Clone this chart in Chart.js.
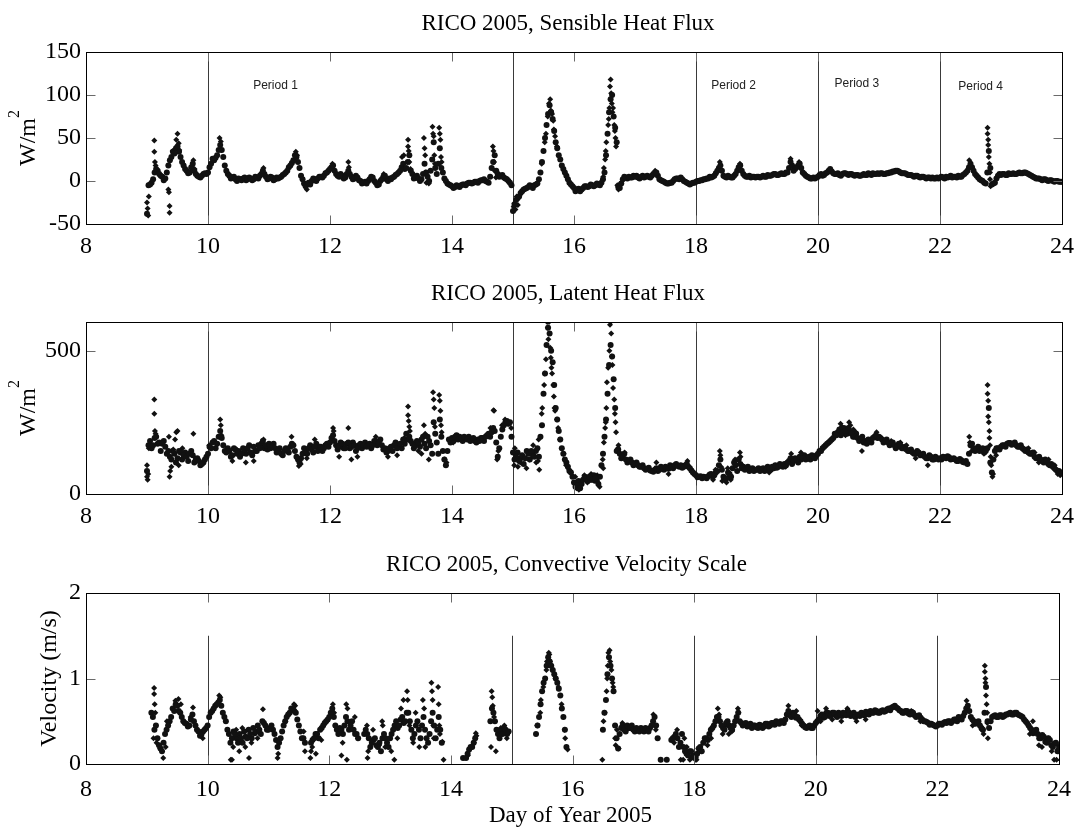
<!DOCTYPE html>
<html>
<head>
<meta charset="utf-8">
<title>RICO 2005 surface fluxes</title>
<script src="https://cdn.jsdelivr.net/npm/chart.js@4.4.1/dist/chart.umd.min.js"></script>
<style>
  html, body { margin: 0; padding: 0; background: #fff; }
  #page { position: relative; width: 1082px; height: 827px; overflow: hidden; background: #fff; }
  #page canvas { position: absolute; left: 0; }
</style>
</head>
<body>
<div id="page">
  <canvas id="sensible-chart" width="1082" height="270" style="top:0px"></canvas>
  <canvas id="latent-chart" width="1082" height="280" style="top:270px"></canvas>
  <canvas id="velocity-chart" width="1082" height="277" style="top:550px"></canvas>
</div>
<script>
// time axis: samples every 0.05 day from day 9.00 to 24.00,
// the *Mid arrays hold the samples in between (9.025, 9.075, ...)
const dayStart = 9.0;
const dayStep = 0.05;
const dayTicks = [8, 10, 12, 14, 16, 18, 20, 22, 24];
const periodLines = [10, 15, 18, 20, 22];
const periodNames = ['Period 1', 'Period 2', 'Period 3', 'Period 4'];
const periodLabelDays = [10.74, 18.25, 20.27, 22.30];
const periodLabelFlux = [107, 107, 109, 106];

const sensibleTicks = [-50, 0, 50, 100, 150];
const latentTicks = [0, 500];
const velocityTicks = [0, 1, 2];

// sensible heat flux, W/m2
const sensibleFlux = [
  -38, -4, 2, 14, 8, 5, 3, 18, 28, 32, 40, 28, 18, 12, 10, 20, 8, 5, 6, 9,
  10, 20, 24, 30, 42, 28, 12, 6, 4, 2, 3, 1, 4, 2, 3, 2, 4, 6, 12, 5,
  3, 4, 2, 3, 5, 8, 12, 18, 24, 28, 15, 2, -6, -2, 0, 2, 3, 5, 6, 10,
  14, 18, 8, 5, 6, 4, 12, 5, 3, 4, 0, -2, -3, 2, 4, -2, -4, 2, 6, 0,
  2, 5, 8, 12, 20, 15, 30, 8, 4, 3, 2, 20, 5, 12, 45, 8, 38, 10, 0, -4,
  -6, -7, -6, -5, -4, -3, -2, -2, -1, 0, 1, 0, -2, 15, 30, 8, 6, 4, 2, -2,
  -35, -22, -18, -12, -9, -7, -6, -5, -3, 10, 35, 65, 88, 72, 45, 30, 18, 10, 2, -4,
  -8, -10, -12, -8, -6, -6, -5, -5, -4, -2, 10, 55, 95, 75, 45, -8, 2, 4, 5, 4,
  5, 4, 5, 4, 6, 4, 8, 10, 2, 0, -2, -3, -2, 2, 3, 4, 0, -2, -4, -2,
  -1, 0, 1, 2, 3, 4, 6, 12, 18, 6, 4, 5, 4, 8, 16, 12, 6, 5, 4, 5,
  5, 4, 6, 5, 6, 7, 8, 7, 9, 8, 10, 22, 12, 16, 20, 10, 6, 4, 3, 3,
  5, 8, 7, 10, 14, 9, 8, 7, 8, 9, 7, 8, 6, 7, 6, 8, 7, 8, 9, 8,
  8, 9, 8, 9, 10, 11, 12, 10, 9, 8, 7, 6, 6, 5, 5, 4, 4, 3, 3, 4,
  4, 4, 5, 5, 4, 5, 6, 5, 8, 12, 20, 12, 6, 2, 0, -3, 35, -4, -2, 6,
  7, 8, 7, 8, 9, 8, 10, 9, 10, 8, 6, 4, 3, 2, 2, 1, 1, 0, 0, -1,
  -1
];

const sensibleFluxMid = [
  -5, -2, 10, 12, 6, 1, 10, 24, 34, 38, 34, 22, 14, 9, 16, 12, 6, 4, 8, 8,
  16, 26, 27, 36, 36, 18, 8, 3, 5, 0, 2, 3, 1, 4, 1, 5, 3, 8, 8, 2,
  5, 1, 4, 4, 7, 10, 16, 21, 30, 22, 6, -3, -4, -4, 3, 0, 5, 4, 9, 12,
  16, 12, 6, 8, 3, 8, 8, 2, 6, 1, -3, -1, 0, 5, 0, -5, 0, 5, 2, 3,
  4, 7, 10, 16, 14, 22, 12, 3, 6, 0, 8, 10, 0, 25, 15, 20, 15, 3, -3, -5,
  -8, -5, -7, -4, -5, -2, -3, -1, -2, 1, 2, -1, 5, 22, 12, 5, 7, 3, 0, -5,
  -28, -20, -14, -10, -8, -5, -8, -4, 2, 22, 50, 78, 80, 58, 38, 25, 14, 6, -2, -6,
  -12, -9, -10, -6, -7, -4, -6, -3, -5, 2, 30, 80, 100, 62, -7, -3, 5, 3, 4, 6,
  6, 3, 6, 5, 5, 6, 9, 6, 1, -1, -3, -2, 0, 3, 2, 2, -1, -3, -3, -2,
  0, 1, 2, 3, 5, 5, 9, 15, 12, 5, 6, 4, 6, 12, 18, 8, 5, 6, 5, 4,
  5, 5, 5, 7, 6, 8, 7, 8, 8, 10, 15, 18, 14, 18, 15, 8, 5, 3, 4, 4,
  7, 6, 9, 12, 11, 8, 9, 6, 9, 8, 8, 7, 7, 6, 7, 7, 9, 7, 8, 9,
  9, 8, 9, 10, 11, 12, 11, 9, 9, 7, 7, 5, 6, 4, 5, 3, 4, 4, 3, 3,
  5, 3, 4, 6, 5, 4, 5, 7, 10, 16, 16, 8, 4, 1, -2, 10, 15, -3, 3, 8,
  8, 7, 9, 8, 8, 9, 9, 10, 9, 7, 5, 3, 3, 1, 2, 0, 1, -1, 0, -1
];

// extra samples inside the fast spikes: [day, W/m2]
const sensibleSpikes = [
  [9.00, -25], [9.01, -32], [9.02, -40], [9.03, -18], [9.12, 47], [9.12, 34], [9.13, 22],
  [9.14, 18], [9.35, -10], [9.36, -13], [9.37, -29], [9.37, -37], [9.42, 35], [9.48, 48],
  [9.50, 55], [9.52, 44], [9.53, 36], [9.76, 24], [9.78, 14],
  [10.19, 50], [10.21, 46], [10.22, 36], [10.91, 15],
  [11.44, 34], [11.46, 30], [11.62, -10],
  [12.04, 20], [12.30, 22], [12.31, 16], [12.88, 8],
  [13.18, 28], [13.21, 30], [13.28, 48], [13.28, 40], [13.29, 35], [13.30, 22], [13.32, 14],
  [13.54, 50], [13.55, 38], [13.56, 30], [13.57, 10], [13.68, 63], [13.69, 55], [13.70, 52],
  [13.71, 30], [13.72, 20], [13.79, 62], [13.80, 55], [13.81, 48], [13.82, 28], [13.83, 22],
  [13.62, -3], [13.58, -2],
  [14.67, 40], [14.68, 35], [14.69, 22], [14.70, 12], [14.72, 4],
  [15.01, -30], [15.02, -26], [15.04, -33], [15.06, -18], [15.08, -28], [15.47, 20],
  [15.52, 45], [15.54, 55], [15.57, 75], [15.59, 90], [15.61, 95], [15.62, 82], [15.64, 78],
  [15.66, 70], [15.67, 60], [15.69, 52], [15.72, 40],
  [16.48, 5], [16.49, 15], [16.51, 25], [16.52, 35], [16.53, 45], [16.56, 65], [16.57, 72],
  [16.58, 85], [16.59, 110], [16.60, 118], [16.61, 102], [16.62, 90], [16.63, 80], [16.64, 85],
  [16.66, 65], [16.67, 58], [16.68, 50], [16.69, 40], [16.71, -5], [16.73, -10], [16.76, -3],
  [17.33, 12], [18.39, 22], [18.72, 20], [19.55, 26], [19.69, 22],
  [22.48, 24], [22.78, 62], [22.78, 55], [22.79, 48], [22.79, 42], [22.80, 28], [22.81, 20],
  [22.82, 10], [22.82, 2], [22.83, -6]
];

// latent heat flux, W/m2
const latentFlux = [
  80, 185, 170, 200, 180, 175, 165, 150, 120, 140, 125, 145, 135, 130, 140, 135, 120, 115, 105, 120,
  140, 160, 185, 175, 220, 170, 145, 150, 135, 155, 150, 140, 155, 160, 145, 165, 150, 160, 185, 170,
  175, 165, 160, 150, 140, 150, 155, 165, 170, 130, 110, 140, 150, 160, 155, 165, 150, 165, 160, 175,
  180, 205, 170, 165, 175, 160, 180, 165, 170, 160, 175, 170, 165, 175, 170, 185, 180, 170, 160, 150,
  165, 170, 160, 175, 190, 210, 200, 175, 170, 180, 190, 175, 200, 170, 250, 180, 260, 150, 100, 190,
  195, 200, 190, 195, 200, 190, 185, 195, 180, 185, 195, 200, 210, 215, 220, 130, 200, 240, 255, 250,
  145, 130, 115, 135, 125, 140, 150, 130, 160, 200, 350, 520, 560, 460, 300, 220, 160, 120, 95, 75,
  40, 30, 20, 50, 55, 60, 50, 55, 35, 100, 200, 350, 520, 400, 150, 140, 130, 120, 115, 110,
  105, 100, 95, 90, 88, 82, 78, 90, 85, 90, 95, 88, 95, 100, 98, 100, 95, 105, 90, 75,
  65, 60, 55, 58, 62, 70, 65, 80, 120, 60, 55, 70, 90, 100, 120, 90, 85, 95, 85, 80,
  85, 80, 90, 85, 90, 95, 100, 95, 100, 105, 110, 125, 115, 120, 130, 125, 120, 130, 135, 125,
  140, 150, 165, 175, 185, 195, 205, 225, 215, 220, 230, 210, 200, 195, 190, 180, 175, 185, 195, 205,
  200, 190, 185, 180, 175, 170, 165, 170, 160, 155, 150, 145, 140, 145, 135, 130, 125, 130, 120, 125,
  125, 130, 125, 128, 122, 120, 115, 118, 110, 105, 170, 160, 155, 150, 160, 150, 300, 75, 150, 160,
  165, 170, 175, 178, 175, 170, 165, 160, 150, 145, 140, 130, 125, 120, 110, 115, 100, 95, 85, 80,
  75
];

const latentFluxMid = [
  170, 160, 195, 175, 150, 185, 140, 130, 150, 110, 150, 120, 145, 115, 150, 110, 125, 100, 110, 130,
  165, 180, 160, 200, 195, 150, 160, 130, 160, 140, 130, 160, 140, 170, 135, 150, 170, 175, 160, 155,
  160, 175, 145, 160, 135, 160, 145, 175, 150, 120, 125, 160, 140, 170, 145, 175, 165, 150, 170, 165,
  195, 185, 155, 180, 160, 175, 160, 180, 150, 170, 160, 180, 170, 160, 185, 170, 190, 155, 145, 160,
  150, 180, 170, 160, 175, 190, 185, 160, 185, 165, 200, 160, 185, 140, 210, 140, 200, 120, 150, 180,
  185, 205, 200, 185, 195, 200, 190, 185, 190, 195, 185, 205, 200, 230, 180, 160, 225, 250, 245, 200,
  120, 145, 125, 105, 150, 120, 135, 150, 130, 240, 420, 580, 500, 380, 260, 190, 140, 110, 80, 60,
  25, 45, 35, 60, 45, 50, 65, 45, 60, 140, 260, 450, 480, 300, 155, 125, 140, 110, 120, 100,
  110, 95, 100, 85, 92, 80, 85, 80, 95, 85, 90, 100, 90, 105, 95, 92, 100, 95, 82, 70,
  58, 62, 60, 55, 68, 60, 75, 100, 85, 50, 75, 60, 110, 80, 105, 95, 90, 80, 90, 85,
  90, 85, 80, 95, 85, 90, 92, 105, 95, 100, 115, 105, 125, 110, 120, 135, 125, 120, 130, 135,
  150, 160, 170, 180, 190, 210, 215, 205, 230, 210, 220, 200, 210, 185, 200, 185, 190, 180, 200, 195,
  195, 180, 190, 170, 180, 160, 175, 160, 165, 150, 155, 140, 150, 135, 140, 125, 135, 120, 130, 120,
  120, 128, 132, 120, 125, 115, 122, 112, 115, 140, 175, 150, 165, 155, 145, 160, 110, 120, 160, 155,
  170, 165, 178, 172, 180, 165, 170, 155, 155, 140, 145, 125, 130, 115, 120, 105, 105, 90, 80, 72
];

const latentSpikes = [
  [9.00, 100], [9.00, 60], [9.01, 50], [9.02, 70], [9.03, 160], [9.12, 330], [9.12, 280],
  [9.13, 220], [9.14, 210], [9.37, 60], [9.38, 80], [9.36, 200], [9.40, 95], [9.46, 190],
  [9.48, 215], [9.50, 220], [9.52, 100], [9.76, 210], [9.43, 155], [9.58, 160],
  [10.20, 260], [10.21, 240], [10.22, 205], [10.02, 170], [10.40, 115], [10.62, 110],
  [10.75, 115], [10.91, 190],
  [11.37, 200], [11.49, 98], [11.52, 105], [11.75, 190], [11.62, 125],
  [12.05, 230], [12.06, 220], [12.30, 230], [12.15, 130], [12.35, 120], [12.45, 130],
  [12.95, 130], [12.75, 200],
  [13.28, 305], [13.28, 275], [13.29, 255], [13.30, 235], [13.31, 220], [13.22, 195],
  [13.10, 135], [13.54, 240], [13.56, 210], [13.62, 120], [13.69, 355], [13.70, 330],
  [13.71, 300], [13.72, 235], [13.79, 345], [13.80, 325], [13.81, 290], [13.82, 240],
  [13.83, 215], [13.88, 120], [13.91, 110], [13.45, 150], [13.50, 140],
  [14.68, 292], [14.69, 290], [14.63, 230], [14.74, 120], [14.76, 150], [14.82, 240],
  [14.87, 260], [14.92, 245], [14.97, 230], [14.02, 180],
  [15.02, 100], [15.03, 160], [15.08, 95], [15.12, 110], [15.22, 90], [15.27, 120],
  [15.33, 170], [15.38, 110], [15.41, 115], [15.42, 190], [15.43, 85], [15.47, 280],
  [15.48, 300], [15.51, 380], [15.52, 420], [15.54, 470], [15.56, 600], [15.57, 580],
  [15.58, 540], [15.59, 600], [15.61, 510], [15.62, 475], [15.63, 440], [15.64, 420],
  [15.66, 380], [15.67, 340], [15.68, 300], [15.69, 290], [15.72, 260], [15.74, 230],
  [15.77, 190], [15.83, 140], [15.87, 100], [15.92, 85],
  [16.02, 60], [16.04, 20], [16.08, 15], [16.12, 45], [16.17, 65], [16.22, 40], [16.28, 70],
  [16.33, 45], [16.38, 65], [16.42, 25], [16.47, 120], [16.48, 90], [16.49, 180], [16.51, 230],
  [16.52, 250], [16.53, 300], [16.54, 390], [16.56, 440], [16.58, 500], [16.59, 590],
  [16.60, 600], [16.61, 560], [16.62, 480], [16.63, 450], [16.64, 370], [16.66, 330],
  [16.67, 280], [16.68, 250], [16.69, 215], [16.72, 160], [16.73, 170], [16.78, 125], [16.83, 145],
  [17.35, 110], [17.86, 115], [17.55, 70],
  [18.39, 150], [18.40, 135], [18.41, 95], [18.43, 45], [18.50, 40], [18.52, 90], [18.57, 50],
  [18.64, 120], [18.72, 145], [18.73, 130], [18.76, 100], [18.32, 85], [18.28, 50],
  [19.56, 140], [19.72, 145], [19.47, 95], [19.20, 75],
  [20.37, 245], [20.39, 235], [20.51, 250], [20.53, 240], [20.58, 225], [20.72, 150],
  [20.96, 215], [20.98, 195], [20.62, 215], [20.45, 205],
  [21.20, 185], [21.35, 180], [21.60, 125], [21.80, 100], [21.45, 170],
  [22.48, 200], [22.49, 180], [22.52, 150], [22.62, 165], [22.72, 140], [22.77, 155],
  [22.78, 380], [22.78, 350], [22.79, 325], [22.79, 270], [22.80, 250], [22.81, 220],
  [22.81, 195], [22.82, 170], [22.83, 130], [22.84, 100], [22.86, 60], [22.87, 70], [22.92, 135],
  [23.45, 160], [23.55, 145], [23.62, 110], [23.78, 120], [23.88, 100], [23.93, 70], [23.97, 65]
];

// convective velocity scale, m/s (null = no estimate)
const velocityScale = [
  null, null, 0.55, 0.45, 0.22, 0.15, 0.35, 0.45, 0.55, 0.62, 0.68, 0.6, 0.5, 0.47, 0.45, 0.58, 0.45, 0.38, 0.35, 0.4,
  0.45, 0.6, 0.65, 0.7, 0.75, 0.6, 0.5, 0.35, 0.3, 0.35, 0.25, 0.3, 0.38, 0.3, 0.35, 0.42, 0.38, 0.4, 0.5, 0.45,
  0.4, 0.45, 0.35, 0.2, 0.3, 0.45, 0.55, 0.6, 0.65, 0.6, 0.45, 0.3, 0.25, null, 0.25, 0.3, 0.35, 0.4, 0.45, 0.5,
  0.55, 0.65, 0.45, 0.35, 0.4, 0.45, 0.5, 0.45, 0.4, 0.35, null, null, 0.4, 0.3, 0.25, 0.3, 0.2, 0.15, 0.35, 0.25,
  0.3, 0.4, 0.5, 0.45, 0.55, 0.5, 0.6, 0.4, 0.35, 0.5, 0.3, 0.55, 0.3, 0.35, 0.6, 0.3, 0.55, 0.25, null, null,
  null, null, null, null, 0.07, 0.07, 0.17, 0.2, 0.3, null, null, null, null, 0.5, 0.6, 0.4, 0.3, 0.35, 0.4, 0.38,
  null, null, null, null, null, null, null, null, 0.35, 0.55, 0.85, 1.0, 1.25, 1.15, 1.05, 0.95, 0.8, 0.55, 0.2, null,
  null, null, null, null, null, null, null, null, null, null, 0.4, 0.75, 1.25, 1.0, 0.45, 0.18, 0.42, 0.4, 0.45, 0.42,
  0.4, 0.42, 0.38, 0.4, 0.42, 0.38, 0.45, 0.55, 0.3, 0.05, null, 0.05, null, 0.3, 0.35, 0.2, 0.35, 0.15, 0.1, 0.15,
  0.1, 0.12, 0.2, 0.25, 0.3, 0.35, 0.42, 0.5, 0.55, 0.45, 0.4, 0.5, 0.42, 0.45, 0.55, 0.5, 0.45, 0.48, 0.45, 0.42,
  0.45, 0.42, 0.45, 0.44, 0.47, 0.45, 0.48, 0.5, 0.47, 0.5, 0.52, 0.62, 0.55, 0.58, 0.55, 0.5, 0.45, 0.42, 0.45, 0.42,
  0.48, 0.52, 0.58, 0.55, 0.6, 0.57, 0.6, 0.55, 0.58, 0.6, 0.57, 0.6, 0.58, 0.55, 0.58, 0.6, 0.57, 0.6, 0.62, 0.6,
  0.62, 0.6, 0.63, 0.62, 0.65, 0.66, 0.68, 0.65, 0.62, 0.6, 0.62, 0.58, 0.6, 0.55, 0.57, 0.52, 0.5, 0.48, 0.47, 0.45,
  0.45, 0.47, 0.48, 0.48, 0.5, 0.5, 0.52, 0.55, 0.52, 0.6, 0.68, 0.55, 0.5, 0.48, 0.45, 0.4, 0.9, 0.42, 0.55, 0.57,
  0.55, 0.57, 0.56, 0.58, 0.6, 0.58, 0.6, 0.57, 0.55, 0.5, 0.45, 0.4, 0.38, 0.35, 0.3, 0.32, 0.25, 0.28, 0.2, 0.25,
  0.18
];

const velocityScaleMid = [
  null, 0.6, 0.4, 0.3, 0.18, 0.25, 0.4, 0.5, 0.65, 0.7, 0.62, 0.55, 0.48, 0.44, 0.52, 0.5, 0.4, 0.33, 0.38, 0.42,
  0.55, 0.62, 0.68, 0.72, 0.68, 0.55, 0.4, 0.25, 0.38, 0.3, 0.35, 0.25, 0.32, 0.4, 0.3, 0.36, 0.45, 0.35, 0.48, 0.4,
  0.42, 0.4, 0.28, 0.25, 0.38, 0.5, 0.58, 0.65, 0.62, 0.52, 0.38, 0.3, null, null, 0.28, 0.35, 0.3, 0.42, 0.48, 0.52,
  0.6, 0.55, 0.4, 0.42, 0.35, 0.55, 0.4, 0.5, 0.35, 0.3, null, 0.35, 0.35, 0.2, 0.28, 0.22, 0.25, 0.3, 0.3, 0.2,
  0.35, 0.45, 0.42, 0.52, 0.48, 0.6, 0.5, 0.3, 0.45, 0.4, 0.45, 0.4, 0.25, 0.5, 0.45, 0.4, 0.4, null, null, null,
  null, null, null, null, null, 0.12, 0.2, 0.25, null, null, null, null, null, 0.65, 0.5, 0.35, 0.38, 0.42, 0.35, null,
  null, null, null, null, null, null, null, null, 0.45, 0.7, 0.95, 1.15, 1.2, 1.1, 1.0, 0.88, 0.65, 0.4, null, null,
  null, null, null, null, null, null, null, null, null, null, 0.6, 1.05, 1.15, 0.85, 0.3, 0.35, 0.45, 0.38, 0.42, 0.45,
  0.38, 0.4, 0.42, 0.38, 0.4, 0.42, 0.5, 0.45, null, null, null, null, 0.28, 0.32, 0.3, 0.25, 0.2, 0.12, 0.15, 0.08,
  0.08, 0.18, 0.15, 0.3, 0.28, 0.4, 0.45, 0.55, 0.5, 0.42, 0.48, 0.45, 0.4, 0.5, 0.6, 0.48, 0.47, 0.44, 0.47, 0.45,
  0.43, 0.46, 0.42, 0.47, 0.44, 0.48, 0.46, 0.48, 0.5, 0.48, 0.58, 0.57, 0.6, 0.54, 0.52, 0.47, 0.43, 0.44, 0.42, 0.45,
  0.5, 0.56, 0.54, 0.6, 0.56, 0.6, 0.57, 0.6, 0.56, 0.58, 0.62, 0.56, 0.6, 0.57, 0.56, 0.58, 0.61, 0.58, 0.6, 0.63,
  0.6, 0.62, 0.61, 0.64, 0.63, 0.67, 0.66, 0.63, 0.6, 0.62, 0.59, 0.61, 0.57, 0.56, 0.54, 0.5, 0.49, 0.46, 0.46, 0.44,
  0.47, 0.46, 0.49, 0.5, 0.48, 0.52, 0.5, 0.53, 0.56, 0.65, 0.62, 0.52, 0.47, 0.5, 0.42, 0.6, 0.5, 0.5, 0.56, 0.55,
  0.57, 0.55, 0.58, 0.59, 0.58, 0.6, 0.58, 0.56, 0.52, 0.48, 0.42, 0.36, 0.4, 0.3, 0.34, 0.26, 0.3, 0.22, 0.24, 0.15
];

const velocitySpikes = [
  [9.12, 0.89], [9.12, 0.82], [9.13, 0.7], [9.14, 0.6], [9.11, 0.3], [9.16, 0.25], [9.22, 0.18],
  [9.27, 0.07], [9.31, 0.2], [9.33, 0.5], [9.47, 0.74], [9.52, 0.76], [9.56, 0.7], [9.76, 0.66],
  [9.72, 0.55], [9.92, 0.3],
  [10.19, 0.8], [10.21, 0.78], [10.38, 0.05], [10.40, 0.05], [10.42, 0.2], [10.52, 0.15],
  [10.57, 0.42], [10.62, 0.2], [10.68, 0.07], [10.72, 0.25], [10.91, 0.64], [10.82, 0.3], [10.47, 0.4],
  [11.15, 0.07], [11.16, 0.12], [11.42, 0.7], [11.44, 0.68], [11.58, 0.38], [11.60, 0.15],
  [11.69, 0.07], [11.70, 0.15], [11.72, 0.2], [11.78, 0.12], [11.87, 0.28], [11.28, 0.5],
  [12.06, 0.7], [12.08, 0.6], [12.20, 0.1], [12.22, 0.25], [12.28, 0.7], [12.30, 0.65],
  [12.29, 0.05], [12.42, 0.55], [12.47, 0.3], [12.62, 0.45], [12.63, 0.07], [12.64, 0.15],
  [12.72, 0.4], [12.87, 0.5], [12.88, 0.45], [12.92, 0.2], [12.82, 0.22],
  [13.07, 0.05], [13.02, 0.15], [13.12, 0.3], [13.18, 0.65], [13.22, 0.75], [13.28, 0.85],
  [13.29, 0.75], [13.32, 0.45], [13.38, 0.25], [13.42, 0.6], [13.48, 0.2], [13.54, 0.75],
  [13.56, 0.65], [13.58, 0.2], [13.68, 0.95], [13.69, 0.85], [13.70, 0.75], [13.71, 0.45],
  [13.72, 0.3], [13.79, 0.9], [13.80, 0.7], [13.81, 0.45], [13.82, 0.35], [13.86, 0.26], [13.88, 0.05],
  [14.28, 0.1], [14.38, 0.25], [14.41, 0.36], [14.42, 0.33], [14.67, 0.85], [14.68, 0.78],
  [14.69, 0.68], [14.71, 0.55], [14.66, 0.2], [14.74, 0.15], [14.82, 0.42], [14.88, 0.45], [14.92, 0.3],
  [15.42, 0.45], [15.47, 0.6], [15.48, 0.75], [15.52, 0.9], [15.57, 1.1], [15.58, 1.2],
  [15.61, 1.3], [15.62, 1.28], [15.63, 1.2], [15.67, 1.1], [15.72, 1.0], [15.77, 0.9],
  [15.82, 0.7], [15.87, 0.4], [15.88, 0.3], [15.92, 0.17],
  [16.49, 0.05], [16.51, 0.5], [16.53, 0.6], [16.56, 0.85], [16.57, 1.0], [16.58, 1.15],
  [16.59, 1.3], [16.61, 1.33], [16.62, 1.2], [16.64, 1.1], [16.66, 0.95], [16.67, 0.9],
  [16.70, 0.3], [16.71, 0.22], [16.73, 0.4], [16.76, 0.18], [16.82, 0.48],
  [17.33, 0.58], [17.37, 0.4], [17.67, 0.25], [17.72, 0.4], [17.78, 0.05], [17.82, 0.05],
  [17.84, 0.3], [17.88, 0.2], [17.93, 0.05], [17.97, 0.1],
  [18.02, 0.05], [18.04, 0.05], [18.07, 0.18], [18.12, 0.15], [18.22, 0.22], [18.28, 0.3],
  [18.39, 0.65], [18.41, 0.58], [18.47, 0.35], [18.52, 0.45], [18.57, 0.35], [18.72, 0.65],
  [18.73, 0.6], [18.62, 0.38],
  [19.55, 0.68], [19.68, 0.62], [19.77, 0.45],
  [20.03, 0.62], [20.08, 0.5], [20.17, 0.65], [20.27, 0.52], [20.42, 0.5], [20.52, 0.65],
  [20.67, 0.5], [20.82, 0.52], [21.57, 0.62], [21.72, 0.5],
  [22.48, 0.74], [22.52, 0.62], [22.58, 0.45], [22.73, 0.4], [22.78, 1.15], [22.78, 1.08],
  [22.79, 1.0], [22.79, 0.95], [22.80, 0.8], [22.81, 0.7], [22.82, 0.6], [22.82, 0.48],
  [22.83, 0.3], [22.76, 0.35],
  [23.52, 0.35], [23.57, 0.5], [23.67, 0.22], [23.72, 0.2], [23.82, 0.3], [23.88, 0.15],
  [23.92, 0.05], [23.96, 0.05], [23.98, 0.22]
];

const serif = "'Liberation Serif', 'Times New Roman', serif";
const sans = "'Liberation Sans', Arial, sans-serif";
const tickFont = { family: serif, size: 24 };

function sampledPoints(values, offset) {
  return values.map((v, i) => ({ x: Number((dayStart + offset + i * dayStep).toFixed(3)), y: v }));
}

function pairPoints(pairs) {
  return pairs.map(([x, y]) => ({ x, y }));
}

// the regular samples overlap into a band, the spike samples stay as separate dots
const bandStyle = {
  pointStyle: 'circle',
  pointRadius: 3,
  pointHoverRadius: 3,
  pointBackgroundColor: '#111',
  pointBorderWidth: 0,
  showLine: false
};

const dotStyle = {
  pointStyle: 'rectRot',
  pointRadius: 3,
  pointHoverRadius: 3,
  pointBackgroundColor: '#111',
  pointBorderWidth: 0,
  showLine: false
};

// frame, inward ticks, period lines and text around each panel
function panelDecor(cfg) {
  return {
    id: 'panelDecor',
    beforeDatasetsDraw(chart) {
      const { ctx, chartArea: area, scales } = chart;
      const yTop = cfg.lineTop === undefined ? area.top : scales.y.getPixelForValue(cfg.lineTop);
      ctx.save();
      ctx.strokeStyle = '#3a3a3a';
      ctx.lineWidth = 1;
      periodLines.forEach((d) => {
        const x = Math.round(scales.x.getPixelForValue(d)) + 0.5;
        ctx.beginPath();
        ctx.moveTo(x, yTop);
        ctx.lineTo(x, area.bottom);
        ctx.stroke();
      });
      ctx.restore();
    },
    afterDatasetsDraw(chart) {
      const { ctx, chartArea: area, scales } = chart;
      const left = Math.round(area.left) + 0.5;
      const right = Math.round(area.right) + 0.5;
      const top = Math.round(area.top) + 0.5;
      const bottom = Math.round(area.bottom) + 0.5;
      const tickLen = 9;
      ctx.save();
      ctx.strokeStyle = '#6a6a6a';
      ctx.lineWidth = 1;
      dayTicks.forEach((d) => {
        const x = Math.round(scales.x.getPixelForValue(d)) + 0.5;
        ctx.beginPath();
        ctx.moveTo(x, bottom);
        ctx.lineTo(x, bottom - tickLen);
        ctx.moveTo(x, top);
        ctx.lineTo(x, top + tickLen);
        ctx.stroke();
      });
      cfg.yTicks.forEach((v) => {
        const y = Math.round(scales.y.getPixelForValue(v)) + 0.5;
        ctx.beginPath();
        ctx.moveTo(left, y);
        ctx.lineTo(left + tickLen, y);
        ctx.moveTo(right, y);
        ctx.lineTo(right - tickLen, y);
        ctx.stroke();
      });
      ctx.strokeStyle = '#000';
      ctx.strokeRect(left, top, right - left, bottom - top);

      ctx.fillStyle = '#000';
      ctx.font = `23px ${serif}`;
      ctx.textAlign = 'center';
      ctx.textBaseline = 'alphabetic';
      const midX = (area.left + area.right) / 2 - 6;
      ctx.fillText(cfg.title, midX, area.top - 22);

      if (cfg.showPeriods) {
        ctx.font = `12px ${sans}`;
        ctx.fillStyle = '#222';
        ctx.textAlign = 'left';
        periodNames.forEach((name, i) => {
          ctx.fillText(name, scales.x.getPixelForValue(periodLabelDays[i]),
            scales.y.getPixelForValue(periodLabelFlux[i]));
        });
      }

      // rotated y label, optional superscript
      ctx.fillStyle = '#000';
      ctx.font = `24px ${serif}`;
      ctx.textAlign = 'left';
      const mainW = ctx.measureText(cfg.yLabel).width;
      ctx.font = `16px ${serif}`;
      const supW = cfg.yLabelSup ? ctx.measureText(cfg.yLabelSup).width : 0;
      const total = mainW + supW;
      ctx.translate(cfg.yLabelX, (area.top + area.bottom) / 2);
      ctx.rotate(-Math.PI / 2);
      ctx.font = `24px ${serif}`;
      ctx.fillText(cfg.yLabel, -total / 2, 0);
      if (cfg.yLabelSup) {
        ctx.font = `16px ${serif}`;
        ctx.fillText(cfg.yLabelSup, -total / 2 + mainW, -16);
      }
      ctx.restore();

      if (cfg.xLabel) {
        ctx.save();
        ctx.fillStyle = '#000';
        ctx.font = `23px ${serif}`;
        ctx.textAlign = 'center';
        ctx.textBaseline = 'alphabetic';
        ctx.fillText(cfg.xLabel, (area.left + area.right) / 2 - 2, cfg.xLabelY);
        ctx.restore();
      }
    }
  };
}

function makePanel(canvasId, cfg) {
  const canvas = document.getElementById(canvasId);
  const height = canvas.height;
  return new Chart(canvas, {
    type: 'scatter',
    data: {
      datasets: [
        { data: sampledPoints(cfg.series, 0), ...bandStyle },
        { data: sampledPoints(cfg.seriesMid, dayStep / 2), ...bandStyle },
        { data: pairPoints(cfg.spikes), ...dotStyle }
      ]
    },
    options: {
      responsive: false,
      animation: false,
      devicePixelRatio: 1,
      events: [],
      layout: { padding: { top: cfg.top, right: 15, left: 0, bottom: 0 } },
      plugins: { legend: { display: false }, tooltip: { enabled: false } },
      scales: {
        x: {
          type: 'linear',
          min: 8,
          max: 24,
          afterBuildTicks: (scale) => { scale.ticks = dayTicks.map((value) => ({ value })); },
          afterFit: (scale) => { scale.height = height - cfg.bottom; },
          grid: { display: false, drawTicks: false },
          border: { display: false },
          ticks: { font: tickFont, color: '#000', padding: cfg.xPad, maxRotation: 0, autoSkip: false }
        },
        y: {
          type: 'linear',
          min: cfg.yMin,
          max: cfg.yMax,
          afterBuildTicks: (scale) => { scale.ticks = cfg.yTicks.map((value) => ({ value })); },
          afterFit: (scale) => { scale.width = 86; },
          grid: { display: false, drawTicks: false },
          border: { display: false },
          ticks: { font: tickFont, color: '#000', padding: 5, autoSkip: false }
        }
      }
    },
    plugins: [panelDecor(cfg)]
  });
}

makePanel('sensible-chart', {
  series: sensibleFlux,
  seriesMid: sensibleFluxMid,
  spikes: sensibleSpikes,
  yMin: -50,
  yMax: 150,
  yTicks: sensibleTicks,
  top: 52,
  bottom: 224,
  xPad: 8,
  title: 'RICO 2005, Sensible Heat Flux',
  yLabel: 'W/m',
  yLabelSup: '2',
  yLabelX: 35,
  showPeriods: true
});

makePanel('latent-chart', {
  series: latentFlux,
  seriesMid: latentFluxMid,
  spikes: latentSpikes,
  yMin: 0,
  yMax: 600,
  yTicks: latentTicks,
  top: 52,
  bottom: 224,
  xPad: 8,
  title: 'RICO 2005, Latent Heat Flux',
  yLabel: 'W/m',
  yLabelSup: '2',
  yLabelX: 35
});

makePanel('velocity-chart', {
  series: velocityScale,
  seriesMid: velocityScaleMid,
  spikes: velocitySpikes,
  yMin: 0,
  yMax: 2,
  yTicks: velocityTicks,
  top: 43,
  bottom: 214,
  xPad: 11,
  lineTop: 1.5,
  title: 'RICO 2005, Convective Velocity Scale',
  yLabel: 'Velocity (m/s)',
  yLabelX: 56,
  xLabel: 'Day of Year 2005',
  xLabelY: 272
});
</script>
</body>
</html>
